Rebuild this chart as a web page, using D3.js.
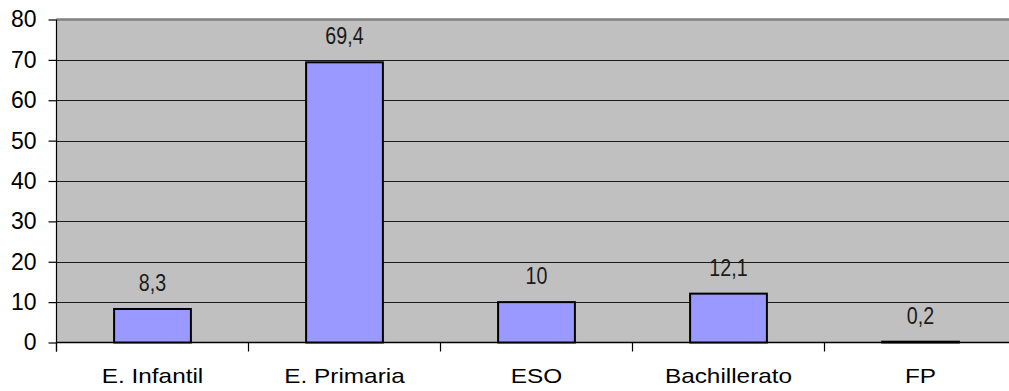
<!DOCTYPE html>
<html>
<head>
<meta charset="utf-8">
<script src="https://cdn.jsdelivr.net/npm/d3@7"></script>
<style>
  html, body { margin: 0; padding: 0; background: #fff; }
  svg { display: block; }
  text { font-family: "Liberation Sans", Arial, sans-serif; }
</style>
</head>
<body>
<svg id="chart" width="1009" height="391"></svg>
<script>
// Distribución por etapa educativa (%)
const categories = ["E. Infantil", "E. Primaria", "ESO", "Bachillerato", "FP"];
const values = [8.3, 69.4, 10, 12.1, 0.2];
const valueLabels = ["8,3", "69,4", "10", "12,1", "0,2"];
const yTicks = [0, 10, 20, 30, 40, 50, 60, 70, 80];

const svg = d3.select("#chart");
const stretch = 1.16;   // horizontal stretch for axis text
const narrow = 0.82;    // condensed look for value labels

const plot = { left: 56.5, right: 1016.5, top: 19.5, bottom: 342.5 };

const x = d3.scaleBand()
  .domain(categories)
  .range([plot.left, plot.right])
  .paddingInner(0.6)
  .paddingOuter(0.3);

const y = d3.scaleLinear()
  .domain([0, 80])
  .range([plot.bottom, plot.top]);

// Plot area background
svg.append("rect")
  .attr("x", plot.left)
  .attr("y", plot.top)
  .attr("width", plot.right - plot.left)
  .attr("height", plot.bottom - plot.top)
  .attr("fill", "#c0c0c0");

// Top border
svg.append("line")
  .attr("x1", plot.left).attr("x2", plot.right)
  .attr("y1", plot.top).attr("y2", plot.top)
  .attr("stroke", "#808080").attr("stroke-width", 2.5);

// Horizontal gridlines
svg.append("g")
  .selectAll("line")
  .data(yTicks.filter(d => d > 0 && d < 80))
  .join("line")
  .attr("x1", plot.left).attr("x2", plot.right)
  .attr("y1", d => Math.round(y(d)) + 0.5)
  .attr("y2", d => Math.round(y(d)) + 0.5)
  .attr("stroke", "#1a1a1a").attr("stroke-width", 1);

// Y axis
const yAxis = d3.axisLeft(y)
  .tickValues(yTicks)
  .tickSize(8)
  .tickPadding(12)
  .tickFormat(d3.format("d"));

const gy = svg.append("g")
  .attr("transform", `translate(${plot.left},0)`)
  .call(yAxis);
gy.select(".domain")
  .attr("d", `M0,${plot.top}V${plot.bottom + 9}`)
  .attr("stroke", "#000").attr("stroke-width", 1.2);
gy.selectAll(".tick line").attr("stroke", "#000").attr("stroke-width", 1.2);
gy.selectAll(".tick text")
  .attr("font-size", 23)
  .attr("fill", "#000")
  .attr("font-family", "'Liberation Sans', Arial, sans-serif");

// X axis: ticks on the band boundaries
const xAxis = d3.axisBottom(x).tickSize(0).tickFormat("");
const gx = svg.append("g")
  .attr("transform", `translate(0,${plot.bottom})`)
  .call(xAxis);
gx.select(".domain")
  .attr("d", `M${plot.left},0H${plot.right}`)
  .attr("stroke", "#000").attr("stroke-width", 1.5);

const step = x.step();
const boundaries = d3.range(categories.length + 1).map(i => plot.left + i * step);
gx.append("g")
  .selectAll("line")
  .data(boundaries)
  .join("line")
  .attr("x1", d => d).attr("x2", d => d)
  .attr("y1", 0).attr("y2", 9)
  .attr("stroke", "#000").attr("stroke-width", 1.2);

// Category labels
svg.append("g")
  .selectAll("text")
  .data(categories)
  .join("text")
  .attr("transform", d => `translate(${x(d) + x.bandwidth() / 2},383) scale(${stretch},1)`)
  .attr("text-anchor", "middle")
  .attr("font-size", 21)
  .attr("fill", "#000")
  .text(d => d);

// Bars
svg.append("g")
  .selectAll("rect")
  .data(categories.map((c, i) => ({ c, v: values[i] })))
  .join("rect")
  .attr("x", d => x(d.c))
  .attr("width", x.bandwidth())
  .attr("y", d => y(d.v))
  .attr("height", d => y(0) - y(d.v))
  .attr("fill", "#9999ff")
  .attr("stroke", "#000")
  .attr("stroke-width", 2);

// Value labels
svg.append("g")
  .selectAll("text")
  .data(categories.map((c, i) => ({ c, v: values[i], t: valueLabels[i] })))
  .join("text")
  .attr("transform", d => `translate(${x(d.c) + x.bandwidth() / 2},${y(d.v) - 18}) scale(${narrow},1)`)
  .attr("text-anchor", "middle")
  .attr("font-size", 24)
  .attr("fill", "#1a1a1a")
  .text(d => d.t);
</script>
</body>
</html>
